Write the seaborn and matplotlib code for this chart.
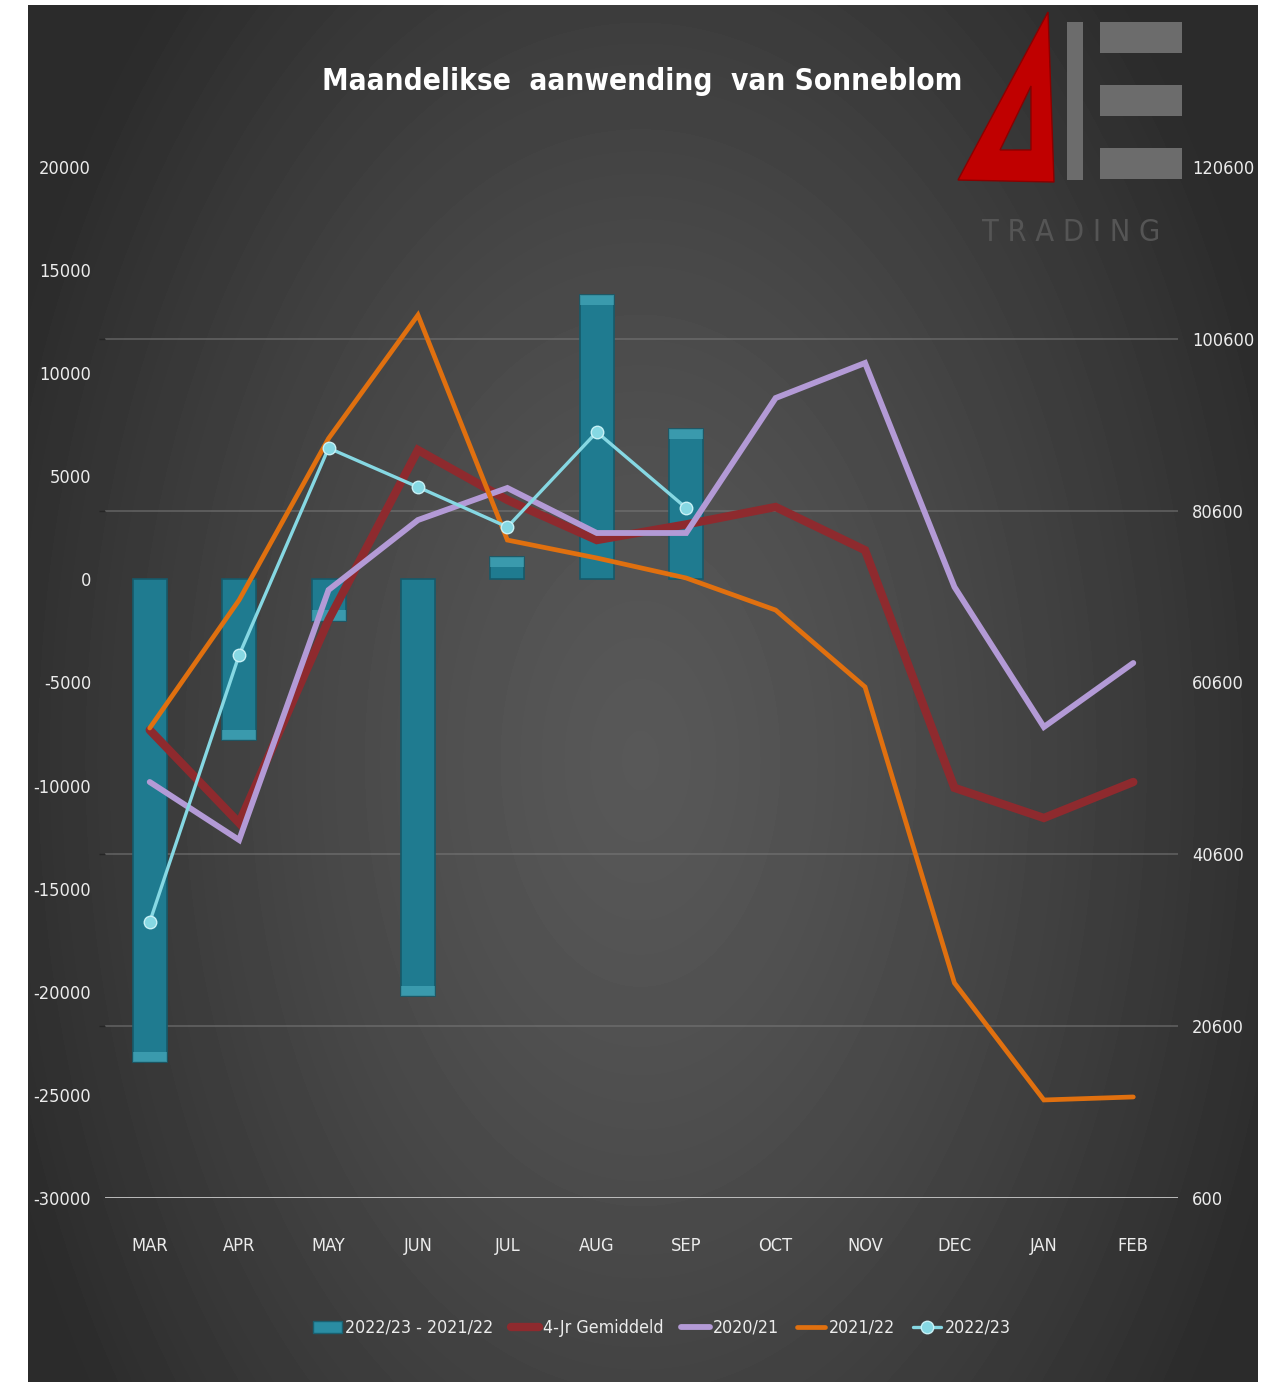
import numpy as np
import pandas as pd
import matplotlib
matplotlib.use("Agg")
import matplotlib.pyplot as plt
import seaborn as sns
from matplotlib import font_manager as fm
from matplotlib.path import Path
from matplotlib.patches import PathPatch, Rectangle

# ---------------- data ----------------
months = ["MAR", "APR", "MAY", "JUN", "JUL", "AUG", "SEP", "OCT", "NOV", "DEC", "JAN", "FEB"]
diff_2223_2122 = [-23400, -7800, -2000, -20200, 1100, 13800, 7300]
avg_4jr = [55070, 44250, 67870, 87660, 81840, 77180, 79000, 81030, 76000, 48340, 44830, 49020]
s2020_21 = [49020, 42270, 71370, 79510, 83240, 78000, 78000, 93710, 97790, 71720, 55420, 62870]
s2021_22 = [55300, 70200, 89000, 103370, 77180, 75090, 72760, 69030, 60080, 25620, 12010, 12360]
s2022_23 = [32720, 63800, 87890, 83350, 78700, 89750, 80910]
left_ticks = list(range(-30000, 20001, 5000))
right_ticks = list(range(600, 120601, 20000))
title = "Maandelikse  aanwending  van Sonneblom"
bar_label = "2022/23 - 2021/22"
line_labels = ["4-Jr Gemiddeld", "2020/21", "2021/22", "2022/23"]

W, H = 1279, 1382
sns.set_theme(style="dark")

# pick the narrowest available sans family
names = {f.name for f in fm.fontManager.ttflist}
stretch_condensed = any(f.name == "DejaVu Sans" and "condensed" in str(f.stretch) for f in fm.fontManager.ttflist)
if "Liberation Sans Narrow" in names:
    FONT = ["Liberation Sans Narrow", "DejaVu Sans"]
    STRETCH = "normal"
elif "DejaVu Sans Condensed" in names:
    FONT = ["DejaVu Sans Condensed", "DejaVu Sans"]
    STRETCH = "normal"
elif stretch_condensed:
    FONT = ["DejaVu Sans", "sans-serif"]
    STRETCH = "condensed"
else:
    FONT = ["DejaVu Sans", "sans-serif"]
    STRETCH = "normal"
plt.rcParams["font.family"] = FONT
plt.rcParams["font.stretch"] = STRETCH

fig = plt.figure(figsize=(W / 100, H / 100), dpi=100, facecolor="white")
renderer = fig.canvas.get_renderer()


def fit_size(text, target_px, weight="normal", base=20.0):
    t = fig.text(0, 0, text, fontsize=base, fontweight=weight, family=FONT, fontstretch=STRETCH)
    w = t.get_window_extent(renderer).width
    t.remove()
    return base * target_px / w


tick_fs = fit_size("-30000", 58)
title_fs = fit_size(title, 640, weight="bold")
leg_fs = fit_size(bar_label, 148)

# ---------------- background (radial gradient) ----------------
bx0, by0, bw, bh = 28, 5, 1230, 1377
bg = fig.add_axes([bx0 / W, 0, bw / W, bh / H], zorder=-10)
yy, xx = np.mgrid[0:bh, 0:bw]
cx, cy = 640 - bx0, 760 - by0
r = np.sqrt(((xx - cx) / 680.0) ** 2 + ((yy - cy) / 1100.0) ** 2)
val = 0x58 - (0x58 - 0x2b) * np.clip(r, 0, 1) ** 1.35
bg.imshow(val, cmap="gray", vmin=0, vmax=255, aspect="auto", interpolation="bilinear")
bg.set_axis_off()

# ---------------- main axes ----------------
ax = fig.add_axes([105 / W, 184 / H, (1178 - 105) / W, (1198 - 167) / H])
ax.set_facecolor("none")
ax2 = ax.twinx()

x_idx = list(range(len(months)))
bar_df = pd.DataFrame({"x": x_idx[:len(diff_2223_2122)], "v": diff_2223_2122})
bar_df["m"] = pd.Categorical([months[i] for i in bar_df["x"]], categories=months)
sns.barplot(data=bar_df, x="m", y="v", ax=ax, color="#1f7b90", width=0.38,
            saturation=1, edgecolor="#165a6a", linewidth=1.2, label=bar_label, zorder=2)
for p in list(ax.patches):
    h = p.get_height()
    y_end = p.get_y() + h
    cap = 500 if h > 0 else -500
    ax.add_patch(Rectangle((p.get_x(), y_end - cap), p.get_width(), cap,
                           facecolor="#56b9ca", edgecolor="none", alpha=0.5, zorder=3))

ax.set_ylim(-30000, 20000)
ax.set_yticks(left_ticks)
ax.set_yticklabels([str(t) for t in left_ticks])
ax.set_xlim(-0.5, 11.5)
ax.set_xticks(x_idx)
ax.set_xticklabels(months)
ax.set_xlabel("")
ax.set_ylabel("")
ax.set_yticks(np.linspace(-30000, 20000, len(right_ticks)), minor=True)
ax.grid(False)
ax.grid(True, which="minor", axis="y", color="#7a7a7a", linewidth=1.2, alpha=0.6, zorder=0)
ax.set_axisbelow(True)

long = []
for lab, series in zip(line_labels, [avg_4jr, s2020_21, s2021_22, s2022_23]):
    for i, v in enumerate(series):
        long.append({"x": i, "v": v, "s": lab})
ldf = pd.DataFrame(long)
palette = {"4-Jr Gemiddeld": "#8e2a2e", "2020/21": "#b39ad6",
           "2021/22": "#e0700f", "2022/23": "#86d8e3"}
widths = {"4-Jr Gemiddeld": 6.0, "2020/21": 4.2, "2021/22": 3.4, "2022/23": 2.4}
for lab in line_labels:
    sub = ldf[ldf["s"] == lab]
    sns.lineplot(data=sub, x="x", y="v", ax=ax2, color=palette[lab], linewidth=widths[lab],
                 sort=False, label=lab,
                 marker="o" if lab == "2022/23" else None,
                 markersize=9, markeredgecolor="#c8f1f6", markeredgewidth=1.0,
                 solid_joinstyle="miter")
ax2.set_ylim(600, 120600)
ax2.set_yticks(right_ticks)
ax2.set_yticklabels([str(t) for t in right_ticks])
ax2.set_ylabel("")
ax2.set_xlabel("")
ax2.grid(False)
ax2.set_xlim(-0.5, 11.5)

for a in (ax, ax2):
    for s in ("top", "left", "right", "bottom"):
        a.spines[s].set_visible(False)
    a.tick_params(axis="both", length=0, colors="#e6e6e6", labelsize=tick_fs)
ax.axhline(-30000, color="#c8c8c8", linewidth=2, zorder=4)
ax.tick_params(axis="y", pad=10)
ax2.tick_params(axis="y", pad=10)
ax.tick_params(axis="x", pad=28)
for lbl in ax.get_xticklabels() + ax.get_yticklabels() + ax2.get_yticklabels():
    lbl.set_fontfamily(FONT)
    lbl.set_fontstretch(STRETCH)
    lbl.set_color("#ececec")

# legend
if ax.get_legend():
    ax.get_legend().remove()
h2, l2 = ax2.get_legend_handles_labels()
if ax2.get_legend():
    ax2.get_legend().remove()
handles = [Rectangle((0, 0), 1, 1, facecolor="#2a8da3", edgecolor="#1a6070")] + h2
labels = [bar_label] + l2
fig.legend(handles, labels, loc="center", bbox_to_anchor=(662 / W, 1 - 1328 / H),
           ncol=5, frameon=False, handlelength=1.6, handletextpad=0.2,
           columnspacing=1.0, labelcolor="#ececec",
           prop={"family": FONT, "size": leg_fs, "stretch": STRETCH})

# title
fig.text(642 / W, 1 - 82 / H, title, ha="center", va="center", color="white",
         fontsize=title_fs, fontweight="bold", family=FONT, fontstretch=STRETCH)

# ---------------- logo ----------------
ov = fig.add_axes([0, 0, 1, 1], zorder=5)
ov.set_xlim(0, W)
ov.set_ylim(H, 0)
ov.set_axis_off()
ov.patch.set_alpha(0)
outer = [(958, 180), (1048, 12), (1054, 182), (958, 180)]
inner = [(1000, 150), (1031, 150), (1031, 86), (1000, 150)]
codes = [Path.MOVETO, Path.LINETO, Path.LINETO, Path.CLOSEPOLY] * 2
ov.add_patch(PathPatch(Path(outer + inner, codes), facecolor="#c00000", edgecolor="#8a0000", lw=1))
ov.add_patch(Rectangle((1067, 22), 16, 158, facecolor="#6c6c6c", edgecolor="none"))
for y0 in (22, 85, 148):
    ov.add_patch(Rectangle((1100, y0), 82, 31, facecolor="#6c6c6c", edgecolor="none"))
ov.text(1071, 232, "T R A D I N G", ha="center", va="center", color="#555555",
        fontsize=22, family=FONT)

fig.savefig("out.png", dpi=100, facecolor="white")
